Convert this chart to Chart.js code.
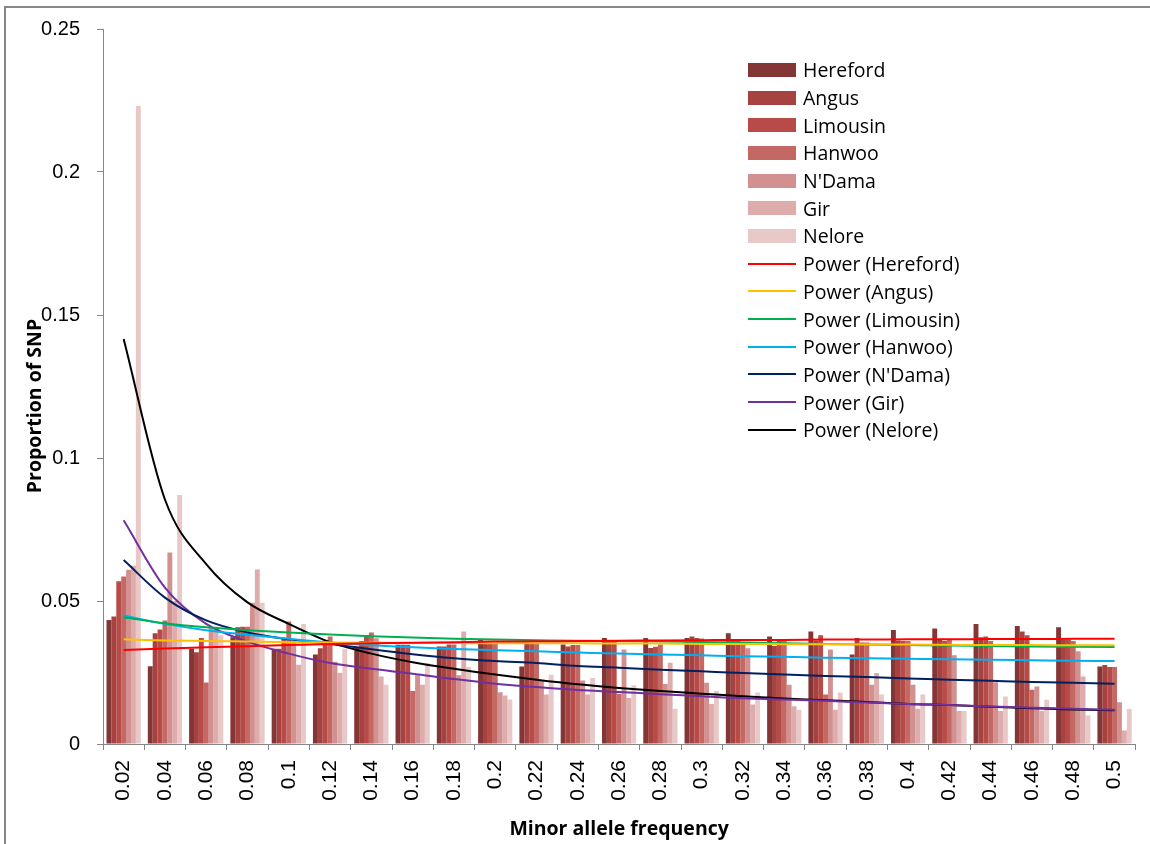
<!DOCTYPE html>
<html>
<head>
<meta charset="utf-8">
<script src="https://cdn.jsdelivr.net/npm/chart.js@4"></script>
<style>
  html, body { margin: 0; padding: 0; background: #fff; overflow: hidden; }
  #wrap { position: relative; width: 1150px; height: 844px; }
  #frame { position: absolute; left: 4px; top: 6px; width: 1200px; height: 900px;
           border: 2px solid #868686; box-sizing: border-box; pointer-events: none; }
  #legend { position: absolute; left: 748px; top: 56px; font-family: "Open Sans", sans-serif;
            font-size: 19.5px; color: #000; }
  .row { height: 27.7px; display: flex; align-items: center; }
  .sw { width: 48px; margin-right: 7px; }
  #ytitle { position: absolute; left: 33px; top: 406px; transform: translate(-50%, -50%) rotate(-90deg);
            font-family: "Open Sans", sans-serif; font-weight: bold; font-size: 19.5px;
            white-space: nowrap; color: #000; }
</style>
</head>
<body>
<div id="wrap">
  <canvas id="snpChart" width="1150" height="844"></canvas>
  <div id="frame"></div>
  <div id="legend"></div>
  <div id="ytitle">Proportion of SNP</div>
</div>
<script>
// categories (minor allele frequency bins)
const categories = ["0.02", "0.04", "0.06", "0.08", "0.1", "0.12", "0.14", "0.16", "0.18", "0.2",
  "0.22", "0.24", "0.26", "0.28", "0.3", "0.32", "0.34", "0.36", "0.38", "0.4",
  "0.42", "0.44", "0.46", "0.48", "0.5"];

const breeds = ["Hereford", "Angus", "Limousin", "Hanwoo", "N'Dama", "Gir", "Nelore"];

// proportion of SNP per bin, one array per breed
const hereford = [0.0434, 0.0272, 0.0333, 0.0373, 0.0333, 0.0313, 0.034, 0.0347, 0.0341, 0.0364,
  0.0271, 0.0348, 0.0371, 0.0371, 0.0371, 0.0387, 0.0376, 0.0393, 0.0313, 0.0399,
  0.0404, 0.042, 0.0413, 0.0408, 0.0271];
const angus = [0.0446, 0.0387, 0.0321, 0.0408, 0.0333, 0.0335, 0.036, 0.0347, 0.0341, 0.0356,
  0.035, 0.0341, 0.0362, 0.0336, 0.0376, 0.0362, 0.0343, 0.0362, 0.0371, 0.0362,
  0.0364, 0.0373, 0.0393, 0.0365, 0.0276];
const limousin = [0.0569, 0.040, 0.0371, 0.041, 0.037, 0.0362, 0.038, 0.0347, 0.0348, 0.035,
  0.035, 0.0346, 0.0362, 0.034, 0.0371, 0.036, 0.0362, 0.038, 0.0355, 0.036,
  0.036, 0.0376, 0.038, 0.0365, 0.0269];
const hanwoo = [0.0586, 0.0432, 0.0215, 0.041, 0.0428, 0.0376, 0.039, 0.0185, 0.0348, 0.035,
  0.035, 0.0346, 0.0176, 0.0348, 0.0369, 0.0355, 0.036, 0.0173, 0.0355, 0.036,
  0.0364, 0.036, 0.019, 0.036, 0.0269];
const ndama = [0.0609, 0.067, 0.0408, 0.0494, 0.036, 0.0288, 0.037, 0.024, 0.024, 0.0181,
  0.0224, 0.0222, 0.033, 0.021, 0.0214, 0.0335, 0.0207, 0.033, 0.0207, 0.0207,
  0.031, 0.0216, 0.0201, 0.0324, 0.0146];
const gir = [0.0623, 0.050, 0.041, 0.061, 0.0277, 0.0248, 0.0236, 0.0207, 0.0393, 0.017,
  0.0173, 0.0173, 0.0161, 0.0284, 0.014, 0.0138, 0.0132, 0.012, 0.0248, 0.0123,
  0.0115, 0.0115, 0.0115, 0.0236, 0.0047];
const nelore = [0.2231, 0.0871, 0.038, 0.0494, 0.042, 0.0333, 0.0207, 0.0283, 0.0269, 0.0156,
  0.0242, 0.0231, 0.0205, 0.0123, 0.0185, 0.018, 0.012, 0.018, 0.0173, 0.0173,
  0.0115, 0.0166, 0.0155, 0.010, 0.0122];

// power trendlines at each bin
const powHereford = [0.0329, 0.0334, 0.0338, 0.0342, 0.0346, 0.035, 0.0352, 0.0354, 0.0356, 0.0358,
  0.0359, 0.036, 0.0361, 0.0362, 0.0363, 0.0364, 0.0364, 0.0365, 0.0365, 0.0366,
  0.0366, 0.0367, 0.0367, 0.0368, 0.0368];
const powAngus = [0.0366, 0.0362, 0.036, 0.0358, 0.0356, 0.0355, 0.0354, 0.0353, 0.0353, 0.0352,
  0.0352, 0.0352, 0.0351, 0.0351, 0.035, 0.035, 0.0349, 0.0349, 0.0348, 0.0348,
  0.0347, 0.0346, 0.0346, 0.0345, 0.0345];
const powLimousin = [0.0443, 0.0422, 0.0408, 0.0398, 0.039, 0.0383, 0.0377, 0.0372, 0.0368, 0.0365,
  0.0363, 0.0361, 0.036, 0.0358, 0.0357, 0.0355, 0.0352, 0.035, 0.0348, 0.0346,
  0.0344, 0.0343, 0.0341, 0.034, 0.0339];
const powHanwoo = [0.0449, 0.042, 0.0398, 0.0382, 0.0368, 0.0355, 0.0345, 0.0338, 0.0332, 0.0328,
  0.0324, 0.032, 0.0316, 0.0313, 0.031, 0.0307, 0.0305, 0.0302, 0.03, 0.0298,
  0.0296, 0.0295, 0.0293, 0.0291, 0.029];
const powNdama = [0.0643, 0.0512, 0.0432, 0.039, 0.0366, 0.035, 0.0331, 0.0314, 0.03, 0.029,
  0.0283, 0.0273, 0.0267, 0.026, 0.0254, 0.0248, 0.0243, 0.0238, 0.0234, 0.0229,
  0.0225, 0.0221, 0.0217, 0.0214, 0.0211];
const powGir = [0.0782, 0.0547, 0.042, 0.0358, 0.0316, 0.0283, 0.0263, 0.0246, 0.0227, 0.0211,
  0.0199, 0.0189, 0.0182, 0.0174, 0.0167, 0.016, 0.0156, 0.0151, 0.0145, 0.014,
  0.0136, 0.0131, 0.0127, 0.0123, 0.012];
const powNelore = [0.1416, 0.0855, 0.0629, 0.0495, 0.042, 0.0356, 0.0316, 0.0286, 0.0263, 0.0243,
  0.0225, 0.0209, 0.0196, 0.0185, 0.0176, 0.0167, 0.0159, 0.0153, 0.0147, 0.014,
  0.0136, 0.013, 0.0125, 0.0121, 0.0118];

const barSeries = [hereford, angus, limousin, hanwoo, ndama, gir, nelore];
const powSeries = [powHereford, powAngus, powLimousin, powHanwoo, powNdama, powGir, powNelore];

const barColors = ["#843535", "#a6423f", "#b84b48", "#c46864", "#d29190", "#ddacab", "#e9c8c8"];
const lineColors = ["#ff0000", "#ffc000", "#00b050", "#00b0f0", "#002060", "#7030a0", "#000000"];
const axisGrey = "#868686";

const datasets = [];
breeds.forEach((b, i) => {
  datasets.push({
    type: "bar",
    label: b,
    data: barSeries[i],
    backgroundColor: barColors[i],
    borderWidth: 0,
    categoryPercentage: 0.83,
    barPercentage: 1.0,
    order: 1,
  });
});
breeds.forEach((b, i) => {
  datasets.push({
    type: "line",
    label: "Power (" + b + ")",
    data: powSeries[i],
    borderColor: lineColors[i],
    borderWidth: 2,
    pointRadius: 0,
    cubicInterpolationMode: "monotone",
    fill: false,
    order: 0,
  });
});

const ctx = document.getElementById("snpChart").getContext("2d");
const snpChart = new Chart(ctx, {
  type: "bar",
  data: { labels: categories, datasets: datasets },
  options: {
    responsive: false,
    animation: false,
    layout: { padding: { top: 25, right: 12, bottom: 0, left: 0 } },
    scales: {
      x: {
        afterFit: (scale) => { scale.height = 100; },
        grid: { drawOnChartArea: false, drawTicks: true, tickLength: 6, color: axisGrey, offset: true },
        border: { display: true, color: axisGrey, width: 1 },
        ticks: {
          color: "#000",
          minRotation: 90,
          maxRotation: 90,
          padding: 10,
          autoSkip: false,
          font: { family: "Liberation Sans", size: 21 },
        },
        title: {
          display: true,
          text: "Minor allele frequency",
          color: "#000",
          font: { family: "Open Sans", size: 19.5, weight: "bold" },
          padding: { top: 0, bottom: 3 },
        },
      },
      y: {
        min: 0,
        max: 0.25,
        afterFit: (scale) => { scale.width = 103; },
        grid: { drawOnChartArea: false, drawTicks: true, tickLength: 6, color: axisGrey },
        border: { display: true, color: axisGrey, width: 1 },
        ticks: {
          stepSize: 0.05,
          color: "#000",
          padding: 17,
          font: { family: "Liberation Sans", size: 20 },
          callback: (v) => String(+v.toFixed(2)),
        },
      },
    },
    plugins: {
      legend: { display: false },
      tooltip: { enabled: false },
    },
  },
});

// legend in the chart area, like the original
const legendBox = document.getElementById("legend");
snpChart.data.datasets.forEach((ds) => {
  const row = document.createElement("div");
  row.className = "row";
  const sw = document.createElement("div");
  sw.className = "sw";
  if (ds.type === "bar") {
    sw.style.height = "14px";
    sw.style.background = ds.backgroundColor;
  } else {
    sw.style.height = "2px";
    sw.style.background = ds.borderColor;
  }
  const txt = document.createElement("span");
  txt.textContent = ds.label;
  row.appendChild(sw);
  row.appendChild(txt);
  legendBox.appendChild(row);
});
</script>
</body>
</html>
